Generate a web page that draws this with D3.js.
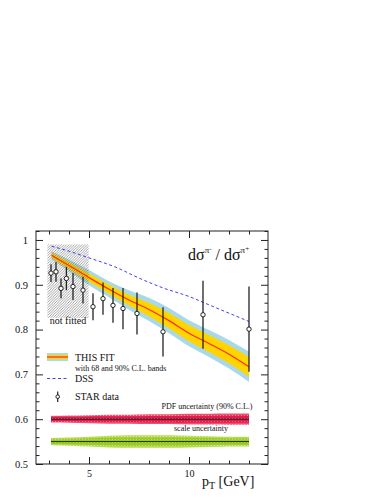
<!DOCTYPE html>
<html>
<head>
<meta charset="utf-8">
<script src="https://cdn.jsdelivr.net/npm/d3@7"></script>
<style>
body { margin: 0; background: #fff; }
text { font-family: "Liberation Serif", "DejaVu Serif", serif; fill: #111; }
</style>
</head>
<body>
<div id="chart"></div>
<script>
// STAR data: pT [GeV], ratio, error
var starPt = [3.1, 3.35, 3.6, 3.87, 4.2, 4.7, 5.2, 5.7, 6.2, 6.7, 7.4, 8.7, 10.7, 13.0];
var starRatio = [0.926, 0.929, 0.892, 0.914, 0.896, 0.888, 0.851, 0.869, 0.854, 0.847, 0.836, 0.795, 0.833, 0.801];
var starErr = [0.020, 0.022, 0.022, 0.026, 0.030, 0.030, 0.030, 0.036, 0.039, 0.046, 0.047, 0.055, 0.076, 0.095];

// this fit, central value and band half widths
var fitPt = [3.13, 4, 5, 6, 7, 8, 9, 10, 11, 12, 13];
var fitCentral = [0.966, 0.943, 0.916, 0.890, 0.866, 0.845, 0.820, 0.792, 0.769, 0.745, 0.717];
var fit68 = [0.006, 0.008, 0.009, 0.010, 0.012, 0.015, 0.017, 0.018, 0.019, 0.020, 0.022];
var fit90 = [0.009, 0.013, 0.017, 0.018, 0.022, 0.026, 0.028, 0.029, 0.030, 0.032, 0.034];

// DSS
var dssPt = [3.13, 4, 5, 6.35, 7.5, 8.7, 10.05, 10.8, 13];
var dssVal = [0.986, 0.975, 0.960, 0.939, 0.915, 0.893, 0.873, 0.859, 0.818];

// PDF and scale uncertainty bands (drawn around 0.6 and 0.55)
var uncPt = [3.1, 4, 5, 6, 7, 8, 9, 10, 11, 12, 13];
var pdfHalf = [0.0075, 0.008, 0.009, 0.010, 0.010, 0.011, 0.011, 0.012, 0.012, 0.0125, 0.0125];
var scaleHalf = [0.008, 0.009, 0.011, 0.013, 0.014, 0.014, 0.014, 0.013, 0.012, 0.011, 0.011];
var pdfCenter = 0.6, scaleCenter = 0.55;

// ticks
var xMajorTicks = [5, 10];
var xMinorTicks = [3, 4, 6, 7, 8, 9, 11, 12, 13];
var yMajorTicks = [0.5, 0.6, 0.7, 0.8, 0.9, 1];
var yMinorTicks = [0.52, 0.54, 0.56, 0.58, 0.62, 0.64, 0.66, 0.68, 0.72, 0.74, 0.76, 0.78,
  0.82, 0.84, 0.86, 0.88, 0.92, 0.94, 0.96, 0.98, 1.02];

// not fitted region
var notFitted = {x0: 2.92, x1: 4.98, y0: 0.826, y1: 0.99};

var svgWidth = 386;
var svgHeight = 500;
var margin = {top: 231, right: 118, bottom: 36, left: 36};
var width = svgWidth - margin.left - margin.right;
var height = svgHeight - margin.top - margin.bottom;

var svg = d3.select("#chart")
  .append("svg")
  .attr("width", svgWidth)
  .attr("height", svgHeight);

var defs = svg.append("defs");

var hatch = defs.append("pattern")
  .attr("id", "hatch")
  .attr("patternUnits", "userSpaceOnUse")
  .attr("width", 2.6)
  .attr("height", 2.6);
hatch.append("path")
  .attr("d", "M-0.65,0.65 L0.65,-0.65 M0,2.6 L2.6,0 M1.95,3.25 L3.25,1.95")
  .attr("stroke", "#666")
  .attr("stroke-width", 0.7);

function stipple(id, base, dot) {
  var p = defs.append("pattern")
    .attr("id", id)
    .attr("patternUnits", "userSpaceOnUse")
    .attr("width", 3)
    .attr("height", 3);
  p.append("rect").attr("width", 3).attr("height", 3).attr("fill", base);
  p.append("rect").attr("x", 1).attr("y", 1).attr("width", 1).attr("height", 1).attr("fill", dot);
}
stipple("pdfOuter", "#f0506f", "#f8a5b6");
stipple("pdfInner", "#e31b4a", "#f0617f");
stipple("scaleOuter", "#b4db52", "#d3ec98");
stipple("scaleInner", "#98cc22", "#b8e260");

var chartGroup = svg.append("g")
  .attr("transform", `translate(${margin.left}, ${margin.top})`);

var xScale = d3.scaleLinear().domain([2.35, 13.95]).range([0, width]);
var yScale = d3.scaleLinear().domain([0.5, 1.02]).range([height, 0]);

// fit bands
var fitArea = function(half) {
  return d3.area()
    .x((d, i) => xScale(fitPt[i]))
    .y0((d, i) => yScale(fitCentral[i] - half[i]))
    .y1((d, i) => yScale(fitCentral[i] + half[i]))
    .curve(d3.curveMonotoneX);
};
chartGroup.append("path").datum(fitPt).attr("d", fitArea(fit90)).attr("fill", "#a9d9e8");
chartGroup.append("path").datum(fitPt).attr("d", fitArea(fit68)).attr("fill", "#ffd400");

// hatched not fitted box
chartGroup.append("rect")
  .attr("x", xScale(notFitted.x0))
  .attr("y", yScale(notFitted.y1))
  .attr("width", xScale(notFitted.x1) - xScale(notFitted.x0))
  .attr("height", yScale(notFitted.y0) - yScale(notFitted.y1))
  .attr("fill", "url(#hatch)")
  .attr("opacity", 0.85);

chartGroup.append("text")
  .attr("x", (xScale(notFitted.x0) + xScale(notFitted.x1)) / 2)
  .attr("y", yScale(notFitted.y0) + 6)
  .attr("text-anchor", "middle")
  .attr("font-size", "10px")
  .text("not fitted");

// central line
chartGroup.append("path")
  .datum(fitPt)
  .attr("d", d3.line().x((d, i) => xScale(fitPt[i])).y((d, i) => yScale(fitCentral[i])).curve(d3.curveMonotoneX))
  .attr("fill", "none")
  .attr("stroke", "#ff2a12")
  .attr("stroke-width", 1.2);

// DSS
chartGroup.append("path")
  .datum(dssPt)
  .attr("d", d3.line().x((d, i) => xScale(dssPt[i])).y((d, i) => yScale(dssVal[i])).curve(d3.curveMonotoneX))
  .attr("fill", "none")
  .attr("stroke", "#4040f0")
  .attr("stroke-width", 1)
  .attr("stroke-dasharray", "3,2.5");

// uncertainty bands
function uncArea(center, half, f) {
  return d3.area()
    .x((d, i) => xScale(uncPt[i]))
    .y0((d, i) => yScale(center - half[i] * f))
    .y1((d, i) => yScale(center + half[i] * f))
    .curve(d3.curveMonotoneX);
}
chartGroup.append("path").datum(uncPt).attr("d", uncArea(pdfCenter, pdfHalf, 1)).attr("fill", "url(#pdfOuter)");
chartGroup.append("path").datum(uncPt).attr("d", uncArea(pdfCenter, pdfHalf, 0.65)).attr("fill", "url(#pdfInner)");
chartGroup.append("path").datum(uncPt).attr("d", uncArea(scaleCenter, scaleHalf, 1)).attr("fill", "url(#scaleOuter)");
chartGroup.append("path").datum(uncPt).attr("d", uncArea(scaleCenter, scaleHalf, 0.65)).attr("fill", "url(#scaleInner)");

[pdfCenter, scaleCenter].forEach((c) => {
  chartGroup.append("line")
    .attr("x1", xScale(uncPt[0]))
    .attr("x2", xScale(uncPt[uncPt.length - 1]))
    .attr("y1", yScale(c))
    .attr("y2", yScale(c))
    .attr("stroke", "#222")
    .attr("stroke-width", 1);
});

chartGroup.append("text")
  .attr("x", xScale(10.9))
  .attr("y", yScale(0.623))
  .attr("text-anchor", "middle")
  .attr("font-size", "8px")
  .text("PDF uncertainty (90% C.L.)");

chartGroup.append("text")
  .attr("x", xScale(10.6))
  .attr("y", yScale(0.574))
  .attr("text-anchor", "middle")
  .attr("font-size", "8px")
  .text("scale uncertainty");

// STAR points
var points = chartGroup.selectAll(".star")
  .data(starPt)
  .enter()
  .append("g")
  .attr("class", "star");
points.append("line")
  .attr("x1", d => xScale(d))
  .attr("x2", d => xScale(d))
  .attr("y1", (d, i) => yScale(starRatio[i] - starErr[i]))
  .attr("y2", (d, i) => yScale(starRatio[i] + starErr[i]))
  .attr("stroke", "#222")
  .attr("stroke-width", 1.3);
points.append("circle")
  .attr("cx", d => xScale(d))
  .attr("cy", (d, i) => yScale(starRatio[i]))
  .attr("r", 2.2)
  .attr("fill", "#fff")
  .attr("stroke", "#222")
  .attr("stroke-width", 1);

// axes, ticks pointing inward on all four sides
function addTicks(axis, ticks, size, transform) {
  var g = chartGroup.append("g")
    .attr("transform", transform)
    .call(axis.tickValues(ticks).tickSize(size).tickFormat(""));
  g.select(".domain").remove();
  g.selectAll("line").attr("stroke", "#222");
}
addTicks(d3.axisBottom(xScale), xMajorTicks, -7, `translate(0,${height})`);
addTicks(d3.axisBottom(xScale), xMinorTicks, -3.5, `translate(0,${height})`);
addTicks(d3.axisTop(xScale), xMajorTicks, -7, "translate(0,0)");
addTicks(d3.axisTop(xScale), xMinorTicks, -3.5, "translate(0,0)");
addTicks(d3.axisLeft(yScale), yMajorTicks, -7, "translate(0,0)");
addTicks(d3.axisLeft(yScale), yMinorTicks, -3.5, "translate(0,0)");
addTicks(d3.axisRight(yScale), yMajorTicks, -7, `translate(${width},0)`);
addTicks(d3.axisRight(yScale), yMinorTicks, -3.5, `translate(${width},0)`);

var xLabels = chartGroup.append("g")
  .attr("transform", `translate(0,${height})`)
  .call(d3.axisBottom(xScale).tickValues(xMajorTicks).tickSize(0).tickPadding(6));
xLabels.select(".domain").remove();
xLabels.selectAll("text").attr("font-size", "10px").attr("font-family", "Liberation Serif, serif").attr("fill", "#111");

var yLabels = chartGroup.append("g")
  .call(d3.axisLeft(yScale).tickValues(yMajorTicks).tickSize(0).tickPadding(8).tickFormat(d => String(d)));
yLabels.select(".domain").remove();
yLabels.selectAll("text").attr("font-size", "10.5px").attr("font-family", "Liberation Serif, serif").attr("fill", "#111");

chartGroup.append("rect")
  .attr("width", width)
  .attr("height", height)
  .attr("fill", "none")
  .attr("stroke", "#222")
  .attr("stroke-width", 1);

// title
var title = svg.append("text")
  .attr("x", 188)
  .attr("y", 260)
  .attr("font-size", "16px");
title.append("tspan").text("d\u03c3");
title.append("tspan").attr("font-size", "9px").attr("dy", -7).text("\u03c0");
title.append("tspan").attr("font-size", "7px").attr("dy", -2).text("-");
title.append("tspan").attr("dy", 9).text(" / d\u03c3");
title.append("tspan").attr("font-size", "9px").attr("dy", -7).text("\u03c0");
title.append("tspan").attr("font-size", "7px").attr("dy", -2).text("+");

// x axis title
var xTitle = svg.append("text")
  .attr("x", 202)
  .attr("y", 486)
  .attr("font-size", "14px");
xTitle.append("tspan").text("p");
xTitle.append("tspan").attr("font-size", "10px").attr("dy", 3).text("T");
xTitle.append("tspan").attr("dy", -3).text(" [GeV]");

// legend
var legend = svg.append("g");
legend.append("rect").attr("x", 47).attr("y", 353).attr("width", 21).attr("height", 8).attr("fill", "#a9d9e8");
legend.append("rect").attr("x", 47).attr("y", 355).attr("width", 21).attr("height", 4).attr("fill", "#ffd400");
legend.append("line").attr("x1", 47).attr("x2", 68).attr("y1", 357).attr("y2", 357)
  .attr("stroke", "#ff2a12").attr("stroke-width", 1.2);
legend.append("text").attr("x", 75).attr("y", 361).attr("font-size", "10px").text("THIS FIT");
legend.append("text").attr("x", 75).attr("y", 371).attr("font-size", "8px").text("with 68 and 90% C.L. bands");

legend.append("line").attr("x1", 47).attr("x2", 68).attr("y1", 378.5).attr("y2", 378.5)
  .attr("stroke", "#4040f0").attr("stroke-width", 1).attr("stroke-dasharray", "3,2.5");
legend.append("text").attr("x", 75).attr("y", 382).attr("font-size", "10px").text("DSS");

legend.append("line").attr("x1", 57.7).attr("x2", 57.7).attr("y1", 391.5).attr("y2", 402)
  .attr("stroke", "#222").attr("stroke-width", 1.2);
legend.append("circle").attr("cx", 57.7).attr("cy", 396.7).attr("r", 1.8)
  .attr("fill", "#fff").attr("stroke", "#222").attr("stroke-width", 1);
legend.append("text").attr("x", 75).attr("y", 400).attr("font-size", "10px").text("STAR data");
</script>
</body>
</html>
